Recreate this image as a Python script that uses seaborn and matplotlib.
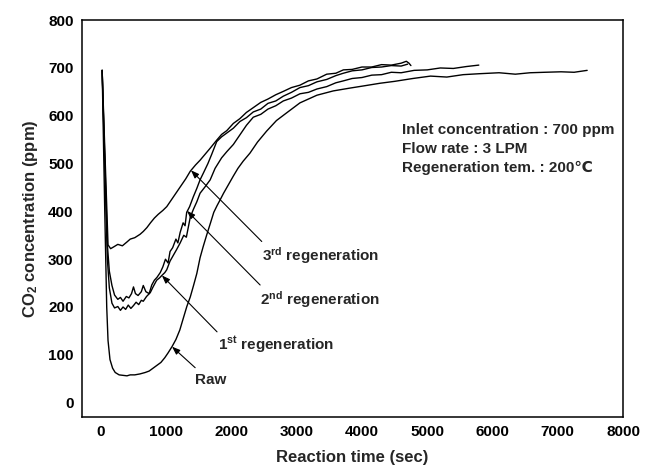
import pandas as pd
import matplotlib
matplotlib.use("Agg")
import matplotlib.pyplot as plt
import seaborn as sns

# ---------------------------------------------------------
# DATA
# ---------------------------------------------------------
raw_t = [20, 60, 90, 110, 140, 180, 220, 280, 340, 400, 450, 520, 600, 680, 740,
         800, 860, 920, 980, 1030, 1090, 1150, 1210, 1260, 1317, 1370, 1420, 1470,
         1520, 1567, 1620, 1680, 1730, 1780, 1827, 1880, 1930, 1980, 2030, 2100,
         2180, 2285, 2400, 2540, 2690, 2845, 3050, 3310, 3560, 3820, 4050, 4275,
         4500, 4780, 5050, 5300, 5550, 5800, 6100, 6350, 6575, 6800, 7050, 7250, 7450]
raw_c = [695, 400, 200, 130, 90, 72, 63, 58, 57, 56, 58, 58, 60, 63, 66,
         72, 78, 84, 94, 104, 117, 132, 152, 175, 201, 221, 245, 270,
         303, 326, 350, 376, 398, 412, 424, 438, 450, 462, 474, 490,
         505, 522, 545, 568, 590, 606, 627, 643, 652, 658, 663, 668,
         672, 678, 683, 681, 686, 688, 690, 687, 690, 691, 692, 691, 695]

reg1_t = [20, 100, 130, 170, 210, 260, 300, 340, 380, 420, 460, 500, 540, 580, 620,
          650, 700, 757, 800, 855, 900, 935, 980, 1010, 1060, 1110, 1160, 1215, 1270,
          1310, 1370, 1420, 1470, 1520, 1600, 1675, 1750, 1850, 1930, 2030, 2130, 2230,
          2335, 2450, 2560, 2680, 2795, 2920, 3050, 3180, 3310, 3460, 3600, 3715, 3850,
          4000, 4150, 4300, 4450, 4600, 4800, 5000, 5200, 5400, 5600, 5790]
reg1_c = [695, 300, 240, 208, 198, 201, 193, 200, 195, 204, 197, 203, 210, 205, 214,
          212, 222, 230, 242, 256, 261, 266, 272, 278, 296, 308, 320, 334, 350,
          346, 388, 405, 420, 438, 452, 466, 490, 512, 525, 540, 560, 580,
          597, 603, 614, 621, 631, 637, 646, 649, 656, 661, 669, 673, 678,
          680, 685, 686, 691, 690, 695, 696, 700, 699, 703, 706]

reg2_t = [20, 100, 130, 170, 210, 260, 300, 340, 390, 430, 470, 500, 530, 570, 620,
          650, 690, 740, 780, 820, 860, 910, 950, 990, 1030, 1060, 1100, 1150, 1180,
          1215, 1260, 1290, 1315, 1360, 1415, 1470, 1520, 1570, 1640, 1700, 1775, 1850,
          1930, 2030, 2130, 2230, 2335, 2450, 2560, 2680, 2795, 2920, 3050, 3180, 3310,
          3460, 3600, 3715, 3850, 4000, 4150, 4300, 4450, 4600, 4700]
reg2_c = [695, 330, 275, 245, 225, 216, 220, 212, 222, 219, 228, 242, 228, 224, 232,
          245, 232, 228, 246, 256, 262, 272, 284, 300, 292, 316, 324, 342, 334,
          356, 376, 370, 398, 410, 430, 448, 466, 480, 500, 520, 546, 556,
          564, 574, 588, 596, 608, 614, 626, 631, 641, 649, 659, 663, 671,
          676, 684, 689, 694, 696, 701, 702, 705, 704, 708]

reg3_t = [20, 110, 150, 200, 260, 330, 400, 450, 520, 600, 650, 705, 760, 820, 880,
          950, 1010, 1080, 1150, 1220, 1300, 1370, 1450, 1520, 1600, 1680, 1775, 1850,
          1930, 2030, 2130, 2230, 2335, 2450, 2560, 2680, 2795, 2920, 3050, 3180, 3310,
          3460, 3600, 3715, 3850, 4000, 4150, 4300, 4450, 4600, 4680, 4720, 4750]
reg3_c = [695, 330, 322, 326, 331, 328, 336, 342, 345, 352, 358, 366, 376, 386, 394,
          402, 410, 424, 438, 452, 468, 484, 497, 507, 520, 533, 549, 561,
          569, 584, 594, 607, 617, 628, 635, 644, 651, 659, 664, 673, 677,
          687, 689, 696, 697, 702, 702, 707, 706, 710, 714, 710, 705]

series = [("Raw", raw_t, raw_c), ("1st", reg1_t, reg1_c),
          ("2nd", reg2_t, reg2_c), ("3rd", reg3_t, reg3_c)]

# arrow labels: text, arrow tip (on curve), arrow tail, text anchor
labels = [r"3$^{\mathbf{rd}}$ regeneration", r"2$^{\mathbf{nd}}$ regeneration",
          r"1$^{\mathbf{st}}$ regeneration", "Raw"]
tips = [(1380, 486), (1320, 401), (935, 266), (1090, 117)]
tails = [(2465, 337), (2440, 246), (1780, 148), (1445, 73)]
text_pos = [(2470, 307), (2440, 215), (1790, 121), (1450, 48)]

info_lines = ["Inlet concentration : 700 ppm", "Flow rate : 3 LPM",
              "Regeneration tem. : 200\u2103"]
info_c = [570, 530, 491]

x_ticks = list(range(0, 8001, 1000))
y_ticks = list(range(0, 801, 100))

# ---------------------------------------------------------
# STYLE
# ---------------------------------------------------------
sns.set_theme(style="white")
plt.rcParams["font.family"] = ["Liberation Sans", "DejaVu Sans"]
plt.rcParams["font.weight"] = "bold"
plt.rcParams["mathtext.fontset"] = "custom"
plt.rcParams["mathtext.rm"] = "Liberation Sans:bold"
plt.rcParams["mathtext.bf"] = "Liberation Sans:bold"
plt.rcParams["mathtext.it"] = "Liberation Sans:bold"

df = pd.concat([pd.DataFrame({"t": t, "c": c, "run": name}) for name, t, c in series],
               ignore_index=True)

fig = plt.figure(figsize=(6.45, 4.69), dpi=100)
ax = fig.add_axes([0.127, 0.111, 0.839, 0.846])

sns.lineplot(data=df, x="t", y="c", hue="run", units="run", estimator=None,
             sort=False, palette=["black"] * 4, legend=False, linewidth=1.0, ax=ax)

for lab, tip, tail, pos in zip(labels, tips, tails, text_pos):
    ax.annotate("", xy=tip, xytext=tail,
                arrowprops=dict(arrowstyle="-|>,head_length=0.4,head_width=0.15",
                                color="black", lw=0.8, shrinkA=0, shrinkB=0))
    ax.text(pos[0], pos[1], lab, fontsize=11, fontweight="bold",
            ha="left", va="center")

for line, c in zip(info_lines, info_c):
    ax.text(4610, c, line, fontsize=11, fontweight="bold", ha="left", va="center")

ax.set_xlim(-290, 8000)
ax.set_ylim(-30, 800)
ax.set_xticks(x_ticks)
ax.set_yticks(y_ticks)
ax.tick_params(axis="x", direction="in", length=4, width=1, pad=6,
               labelsize=11, colors="black")
ax.tick_params(axis="y", direction="out", length=4, width=1, pad=2,
               labelsize=11, colors="black")
for lab in ax.get_xticklabels() + ax.get_yticklabels():
    lab.set_fontweight("bold")
for sp in ax.spines.values():
    sp.set_color("black")
    sp.set_linewidth(1.1)

ax.set_xlabel("Reaction time (sec)", fontsize=12, fontweight="bold", labelpad=8)
ax.set_ylabel(r"CO$_\mathbf{2}$ concentration (ppm)", fontsize=12,
              fontweight="bold", labelpad=6)

fig.savefig("out.png", dpi=100)
plt.close(fig)
